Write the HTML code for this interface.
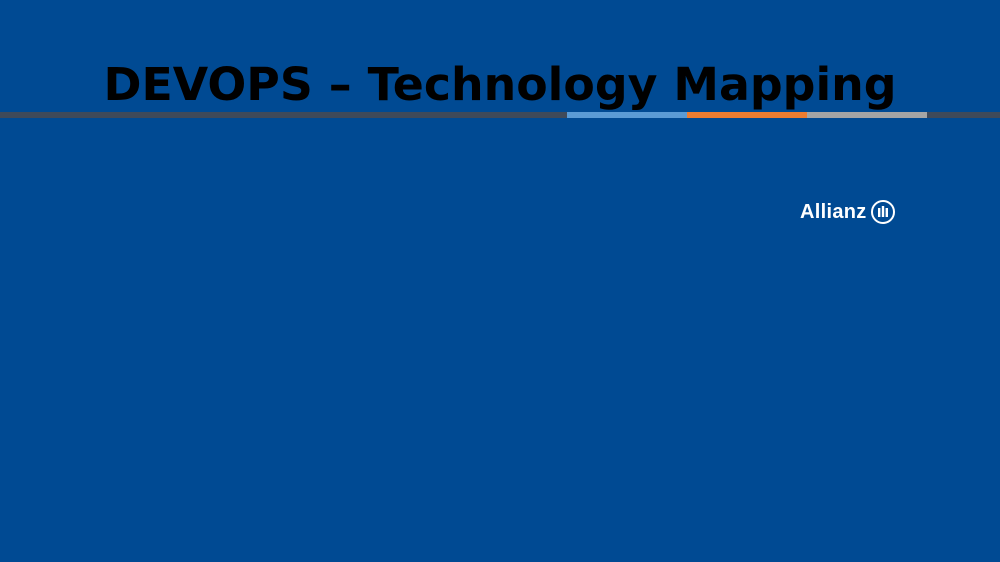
<!DOCTYPE html>
<html><head><meta charset="utf-8"><style>
html,body{margin:0;padding:0}
body{width:1000px;height:562px;background:#004a93;position:relative;overflow:hidden;font-family:"DejaVu Sans","Liberation Sans",sans-serif}
.t{position:absolute;left:0;width:1000px;top:56px;text-align:center;font-weight:bold;font-size:45.8px;color:#000;line-height:56px;white-space:nowrap}
.bar{position:absolute;top:112px;height:6px}
.logo{position:absolute;left:800px;top:201px;font-family:"Liberation Sans",sans-serif;font-weight:bold;font-size:20px;letter-spacing:0.3px;color:#fff}
</style></head><body>
<div class="t">DEVOPS – Technology Mapping</div>
<div class="bar" style="left:0;width:1000px;background:#3f4a5a"></div>
<div class="bar" style="left:567px;width:120px;background:#5b9bd5"></div>
<div class="bar" style="left:687px;width:120px;background:#ed7d31"></div>
<div class="bar" style="left:807px;width:120px;background:#a5a5a5"></div>
<div class="logo">Allianz</div>
<svg style="position:absolute;left:870px;top:199px" width="26" height="26" viewBox="0 0 26 26">
<circle cx="13" cy="13" r="11" fill="none" stroke="#fff" stroke-width="2"/>
<rect x="8" y="9" width="2.4" height="9" fill="#fff"/>
<rect x="11.8" y="7" width="2.4" height="11" fill="#fff"/>
<rect x="15.6" y="9" width="2.4" height="9" fill="#fff"/>
</svg>
</body></html>
